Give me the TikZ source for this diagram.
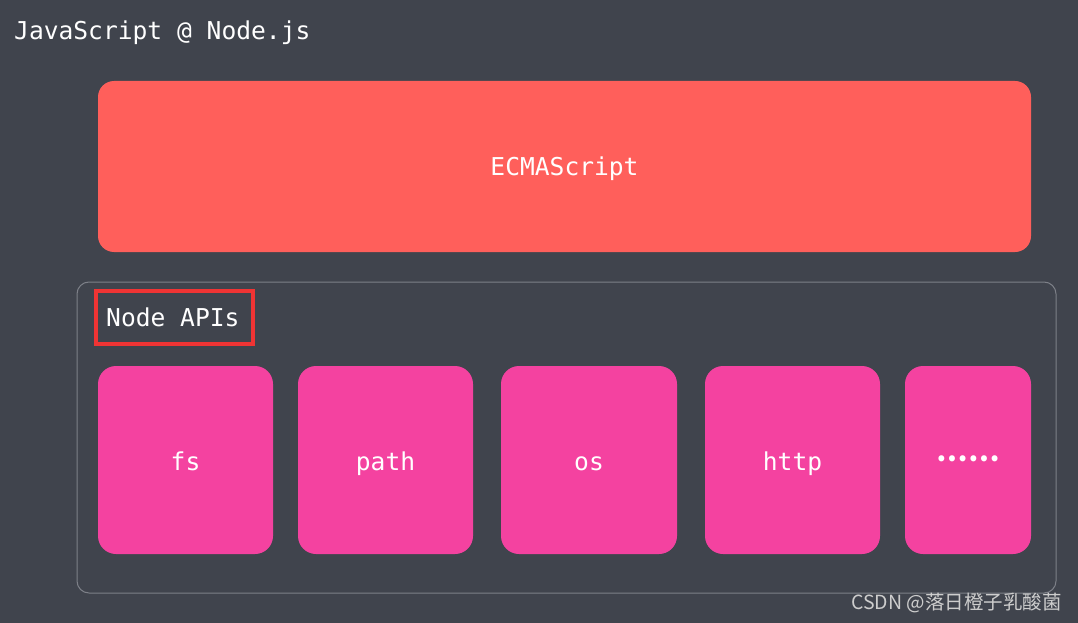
\documentclass[tikz,border=0pt]{standalone}
\usepackage{fontspec}
\setmonofont{DejaVu Sans Mono}
\newfontfamily\cjk{Noto Sans CJK SC}
\definecolor{bg}{RGB}{64,68,77}
\definecolor{ecma}{RGB}{255,95,91}
\definecolor{pinkbox}{RGB}{244,66,160}
\definecolor{redframe}{RGB}{240,52,52}
\definecolor{outline}{RGB}{125,128,136}
\definecolor{wm}{RGB}{205,205,205}
\begin{document}
\begin{tikzpicture}[x=1pt,y=-1pt,
  lbl/.style={text=white,font=\ttfamily\fontsize{24.6}{28}\selectfont,inner sep=0pt,anchor=base},
  apibox/.style={fill=pinkbox,rounded corners=18pt,draw=none}]
\fill[bg] (0,0) rectangle (1078,623);
\useasboundingbox (0,0) rectangle (1078,623);
\node[lbl,anchor=base west] (title) at (14,39.5) {JavaScript @ Node.js};
\fill[ecma,rounded corners=16pt] (98,81) rectangle (1031,252);
\node[lbl] (ecma) at (564.5,175.5) {ECMAScript};
\draw[outline,line width=1pt,rounded corners=12pt] (77,282) rectangle (1056,593);
\draw[redframe,line width=4pt] (96,291) rectangle (253,344);
\node[lbl,anchor=base west] (apis) at (106,326) {Node APIs};
\fill[apibox] (98,366) rectangle (273,554);
\fill[apibox] (298,366) rectangle (473,554);
\fill[apibox] (501,366) rectangle (677,554);
\fill[apibox] (705,366) rectangle (880,554);
\fill[apibox] (905,366) rectangle (1031,554);
\node[lbl] (fs) at (185.5,470) {fs};
\node[lbl] (path) at (385.5,470) {path};
\node[lbl] (os) at (589,470) {os};
\node[lbl] (http) at (792.5,470) {http};
\node[text=white,inner sep=0pt,font=\cjk\bfseries\fontsize{28}{30}\selectfont] (more) at (968,459) {……};
\node[text=wm,anchor=east,inner sep=0pt,font=\cjk\fontsize{19.5}{22}\selectfont] (wmark) at (1062,603) {CSDN @落日橙子乳酸菌};
\end{tikzpicture}
\end{document}
